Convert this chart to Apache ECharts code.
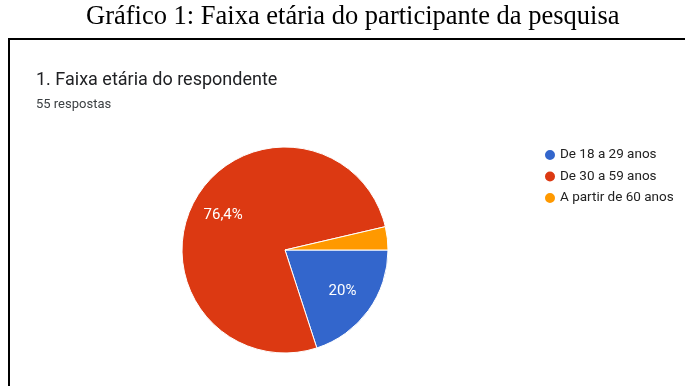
<!DOCTYPE html>
<html>
<head>
<meta charset="utf-8">
<script src="https://cdn.jsdelivr.net/npm/echarts@6/dist/echarts.min.js"></script>
<style>
html,body{margin:0;padding:0;background:#fff;}
#chart{width:685px;height:386px;}
</style>
</head>
<body>
<div id="chart"></div>
<script>
const categories = ['De 18 a 29 anos', 'De 30 a 59 anos', 'A partir de 60 anos'];
const counts = [11, 42, 2];
const colors = ['#3366cc', '#dc3912', '#ff9900'];
const figureTitle = 'Gráfico 1: Faixa etária do participante da pesquisa';
const questionTitle = '1. Faixa etária do respondente';
const responsesText = '55 respostas';

const data = categories.map((c, i) => ({ name: c, value: counts[i], itemStyle: { color: colors[i] } }));
const labelData = categories.map((c, i) => ({ name: c, value: counts[i] }));

function fmt(p) {
  if (p.percent < 5) return '';
  const v = Math.round(p.percent * 10) / 10;
  return String(v).replace('.', ',') + '%';
}

const chart = echarts.init(document.getElementById('chart'), null, { renderer: 'canvas' });
chart.setOption({
  backgroundColor: '#fff',
  animation: false,
  title: [
    { text: figureTitle, left: 81, top: -1,
      textStyle: { fontFamily: 'Liberation Serif', fontSize: 26.5, fontWeight: 'normal', color: '#000' } },
    { text: questionTitle, left: 31, top: 66,
      textStyle: { fontFamily: 'Roboto', fontSize: 18, fontWeight: 'normal', color: '#202124' } },
    { text: responsesText, left: 31, top: 93,
      textStyle: { fontFamily: 'Roboto', fontSize: 13, fontWeight: 'normal', color: '#3c4043' } }
  ],
  graphic: [
    { type: 'rect', shape: { x: 9, y: 39, width: 700, height: 400 },
      style: { fill: 'none', stroke: '#000', lineWidth: 2 }, silent: true, z: -1 }
  ],
  legend: {
    orient: 'vertical', left: 538, top: 142.5,
    data: categories,
    icon: 'circle', itemWidth: 12, itemHeight: 12, itemGap: 6.5,
    textStyle: { fontFamily: 'Roboto', fontSize: 13.5, lineHeight: 15, color: '#222', padding: [0, 0, 0, -1] }
  },
  series: [
    {
      type: 'pie', center: [285, 250], radius: [0, 103], startAngle: 0, clockwise: true,
      data: data,
      label: { show: false }, labelLine: { show: false },
      itemStyle: { borderColor: '#fff', borderWidth: 1 },
      emphasis: { disabled: true }
    },
    {
      type: 'pie', center: [285, 250], radius: [33, 103], startAngle: 0, clockwise: true,
      data: labelData, silent: true, legendHoverLink: false,
      itemStyle: { color: 'rgba(0,0,0,0)', borderWidth: 0 },
      label: { show: true, position: 'inside', formatter: fmt,
        fontFamily: 'Roboto', fontSize: 15, color: '#fff' },
      labelLine: { show: false },
      emphasis: { disabled: true }, z: 3
    }
  ]
});
</script>
</body>
</html>
